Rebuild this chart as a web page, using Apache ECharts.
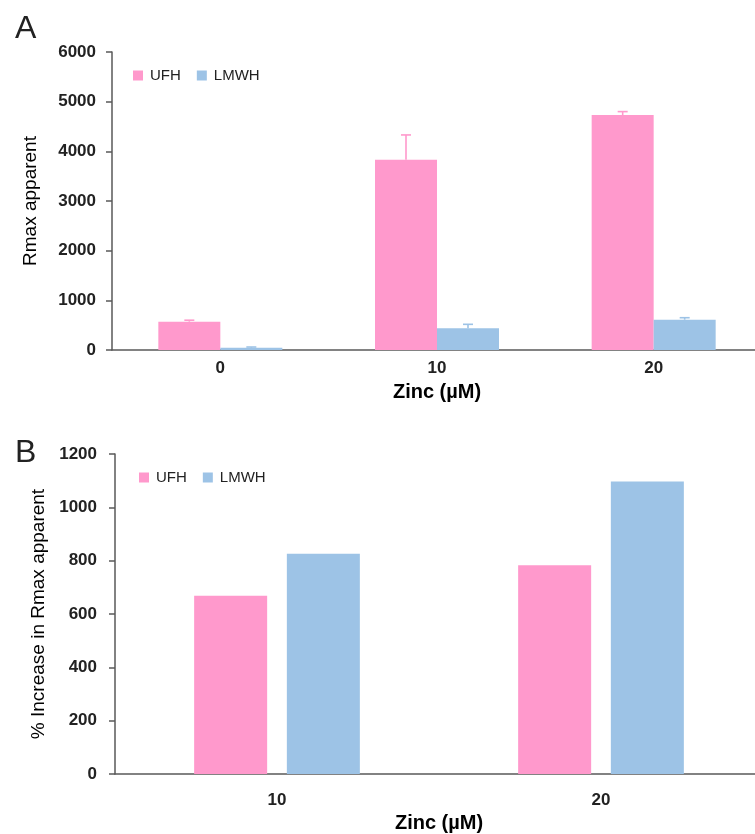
<!DOCTYPE html>
<html>
<head>
<meta http-equiv="content-type" content="text/html; charset=utf-8"/>
<title>Rmax apparent - Zinc</title>
<style type="text/css">body,html{width:100%;height:100%;margin:0;background:#fff;overflow:hidden}#chart{width:775px;height:834px}</style>
<script src="https://cdn.jsdelivr.net/npm/echarts@6/dist/echarts.min.js"></script>
</head>
<body>
<div id="chart"></div>
<script>
	// 面板 A 数据
	var catsA = ['0', '10', '20'];
	var ufhA = [570, 3830, 4730];
	var ufhErrA = [30, 500, 70];
	var lmwhA = [45, 437, 610];
	var lmwhErrA = [15, 80, 40];
	var ticksA = [0, 1000, 2000, 3000, 4000, 5000, 6000];

	// 面板 B 数据
	var catsB = ['10', '20'];
	var ufhB = [668, 783];
	var lmwhB = [826, 1097];
	var ticksB = [0, 200, 400, 600, 800, 1000, 1200];

	var pink = '#FF99CC';
	var blue = '#9DC3E6';
	var axisColor = '#595959';
	var font = 'Liberation Sans, Arial, sans-serif';

	var myChart = echarts.init(document.getElementById('chart'), null, {renderer: 'canvas'});

	// 误差线 (只画向上的一半)
	function errorSeries(name, vals, errs, color, offset) {
		var data = [];
		for (var i = 0; i < vals.length; i++) {
			data.push([i, vals[i], vals[i] + errs[i]]);
		}
		return {
			type: 'custom',
			name: name,
			xAxisIndex: 0,
			yAxisIndex: 0,
			z: 5,
			silent: true,
			data: data,
			renderItem: function (params, api) {
				var lo = api.coord([api.value(0), api.value(1)]);
				var hi = api.coord([api.value(0), api.value(2)]);
				var x = lo[0] + offset;
				var st = {stroke: color, lineWidth: 1.6};
				return {
					type: 'group',
					children: [
						{type: 'line', shape: {x1: x, y1: lo[1], x2: x, y2: hi[1]}, style: st},
						{type: 'line', shape: {x1: x - 5, y1: hi[1], x2: x + 5, y2: hi[1]}, style: st}
					]
				};
			}
		};
	}

	function yAxisOf(idx, ticks, name, gap, margin) {
		return {
			type: 'value',
			gridIndex: idx,
			min: ticks[0],
			max: ticks[ticks.length - 1],
			interval: ticks[1] - ticks[0],
			name: name,
			nameLocation: 'middle',
			nameGap: gap,
			nameTextStyle: {fontFamily: font, fontSize: 19, color: '#000'},
			axisLine: {show: true, lineStyle: {color: axisColor, width: 1.5}},
			axisTick: {show: true, length: 6, lineStyle: {color: axisColor, width: 1.5}},
			axisLabel: {fontFamily: font, fontSize: 17, fontWeight: 'bold', color: '#222', margin: margin,
				formatter: function (v) { return String(v); }},
			splitLine: {show: false}
		};
	}

	function xAxisOf(idx, cats, margin, gap) {
		return {
			type: 'category',
			gridIndex: idx,
			data: cats,
			name: 'Zinc (\u00b5M)',
			nameLocation: 'middle',
			nameGap: gap,
			nameTextStyle: {fontFamily: font, fontSize: 20, fontWeight: 'bold', color: '#000'},
			axisLine: {show: true, lineStyle: {color: axisColor, width: 1.5}},
			axisTick: {show: false},
			axisLabel: {fontFamily: font, fontSize: 17, fontWeight: 'bold', color: '#222', margin: margin}
		};
	}

	var option = {
		animation: false,
		backgroundColor: '#fff',
		title: [
			{text: 'A', left: 10, top: 8, textStyle: {fontFamily: font, fontSize: 32, fontWeight: 'normal', color: '#222'}},
			{text: 'B', left: 10, top: 432, textStyle: {fontFamily: font, fontSize: 32, fontWeight: 'normal', color: '#222'}}
		],
		legend: [
			{
				left: 128, top: 63, itemWidth: 10, itemHeight: 10, itemGap: 16,
				icon: 'rect',
				textStyle: {fontFamily: font, fontSize: 15, color: '#222', padding: [0, 0, 0, 2]},
				data: ['UFH', 'LMWH']
			},
			{
				left: 134, top: 465, itemWidth: 10, itemHeight: 10, itemGap: 16,
				icon: 'rect',
				textStyle: {fontFamily: font, fontSize: 15, color: '#222', padding: [0, 0, 0, 2]},
				data: ['UFH B', 'LMWH B'],
				formatter: function (n) { return n.replace(' B', ''); }
			}
		],
		grid: [
			{left: 112, top: 52, width: 650, height: 298},
			{left: 115, top: 454, width: 648, height: 324}
		],
		xAxis: [xAxisOf(0, catsA, 10, 32), xAxisOf(1, catsB, 18, 39)],
		yAxis: [
			yAxisOf(0, ticksA, 'Rmax apparent', 72, 16),
			yAxisOf(1, ticksB, '% Increase in Rmax apparent', 67, 18)
		],
		series: [
			{type: 'bar', name: 'UFH', xAxisIndex: 0, yAxisIndex: 0, data: ufhA, barWidth: 62, barGap: '0%', itemStyle: {color: pink}},
			{type: 'bar', name: 'LMWH', xAxisIndex: 0, yAxisIndex: 0, data: lmwhA, barWidth: 62, barGap: '0%', itemStyle: {color: blue}},
			errorSeries('UFH', ufhA, ufhErrA, pink, -31),
			errorSeries('LMWH', lmwhA, lmwhErrA, blue, 31),
			{type: 'bar', name: 'UFH B', xAxisIndex: 1, yAxisIndex: 1, data: ufhB, barWidth: 73, barGap: '27%', itemStyle: {color: pink}},
			{type: 'bar', name: 'LMWH B', xAxisIndex: 1, yAxisIndex: 1, data: lmwhB, barWidth: 73, barGap: '27%', itemStyle: {color: blue}}
		]
	};
	myChart.setOption(option);
</script>
</body>
</html>
